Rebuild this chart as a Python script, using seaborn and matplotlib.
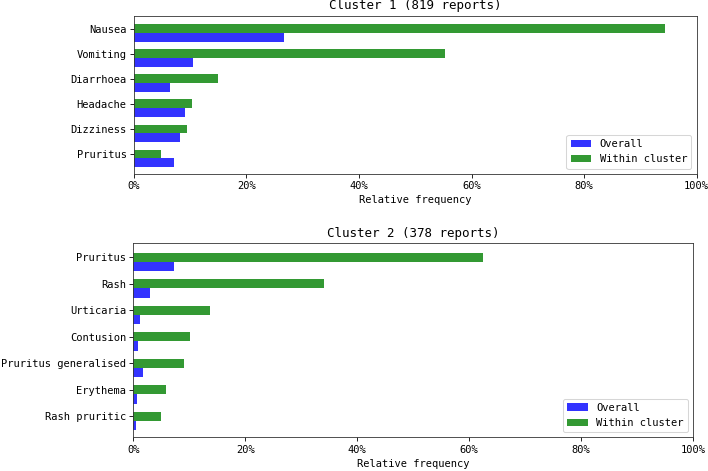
import numpy as np
import pandas as pd
import matplotlib
matplotlib.use("Agg")
import matplotlib.pyplot as plt
from matplotlib.ticker import PercentFormatter
import seaborn as sns

# ---- data (percent) ----
c1_title = "Cluster 1 (819 reports)"
c1_terms = ["Nausea", "Vomiting", "Diarrhoea", "Headache", "Dizziness", "Pruritus"]
c1_within = [94.3, 55.2, 15.0, 10.4, 9.5, 4.9]
c1_overall = [26.6, 10.6, 6.5, 9.1, 8.2, 7.2]

c2_title = "Cluster 2 (378 reports)"
c2_terms = ["Pruritus", "Rash", "Urticaria", "Contusion", "Pruritus generalised",
            "Erythema", "Rash pruritic"]
c2_within = [62.5, 34.0, 13.7, 10.1, 9.1, 5.9, 5.0]
c2_overall = [7.3, 2.9, 1.25, 0.85, 1.8, 0.65, 0.4]

x_ticks = [0, 20, 40, 60, 80, 100]
series_names = ["Overall", "Within cluster"]

plt.rcParams["font.family"] = ["DejaVu Sans Mono", "DejaVu Sans"]

fig = plt.figure(figsize=(708 / 75, 471 / 75), dpi=75)
ax1 = fig.add_axes([0.189, 0.631, 0.795, 0.3357])
ax2 = fig.add_axes([0.1883, 0.0715, 0.7905, 0.4119])

palette = {"Overall": "blue", "Within cluster": "green"}


def draw(ax, title, terms, within, overall):
    n = len(terms)
    df = pd.DataFrame({
        "term": terms * 2,
        "value": list(within) + list(overall),
        "series": ["Within cluster"] * n + ["Overall"] * n,
    })
    sns.barplot(data=df, y="term", x="value", hue="series",
                hue_order=["Within cluster", "Overall"], order=terms,
                palette=palette, saturation=1, alpha=0.8, width=0.7,
                linewidth=0, orient="h", ax=ax)
    ax.set_yticks(np.arange(n) - 0.175)
    ax.set_yticklabels(terms)
    ax.set_ylim(n - 1 + 0.62, -0.7)
    ax.set_xlim(0, 100)
    ax.set_xticks(x_ticks)
    ax.xaxis.set_major_formatter(PercentFormatter(100, decimals=0))
    ax.set_xlabel("Relative frequency")
    ax.set_ylabel("")
    ax.set_title(title, fontsize=12)
    for s in ax.spines.values():
        s.set_visible(True)
        s.set_color("#333333")
    handles, labels = ax.get_legend_handles_labels()
    hmap = dict(zip(labels, handles))
    leg = ax.get_legend()
    if leg is not None:
        leg.remove()
    ax.legend([hmap[s] for s in series_names], series_names, loc="lower right")


draw(ax1, c1_title, c1_terms, c1_within, c1_overall)
draw(ax2, c2_title, c2_terms, c2_within, c2_overall)

fig.savefig("out.png", dpi=75)
